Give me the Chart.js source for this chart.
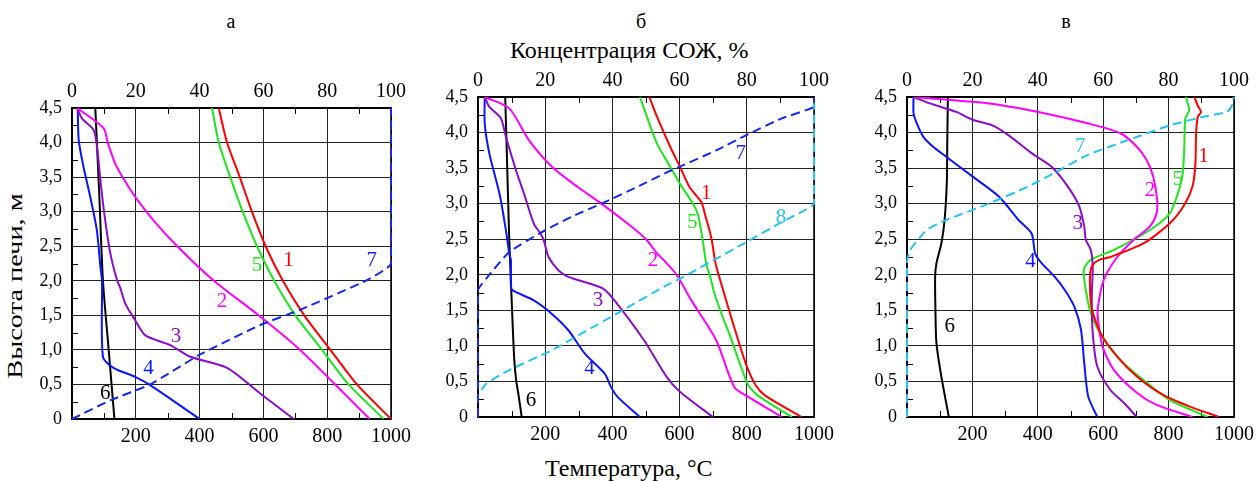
<!DOCTYPE html>
<html lang="ru">
<head>
<meta charset="utf-8">
<title>Температура и концентрация СОЖ по высоте печи</title>
<script src="https://cdn.jsdelivr.net/npm/chart.js@4.4.1/dist/chart.umd.min.js"></script>
<style>
  html, body { margin: 0; padding: 0; background: #fff; }
  #fig { position: relative; width: 1260px; height: 481px; overflow: hidden; font-family: "Liberation Serif", "DejaVu Serif", "Noto Serif", "Times New Roman", serif; color: #000; }
  #fig canvas { position: absolute; top: 0; }
  .txt { position: absolute; white-space: nowrap; line-height: 1; }
</style>
</head>
<body>
<div id="fig">
  <div class="txt" style="left:231px;top:11px;font-size:20px;transform:translateX(-50%)">а</div>
  <div class="txt" style="left:641px;top:11px;font-size:20px;transform:translateX(-50%)">б</div>
  <div class="txt" style="left:1066px;top:11px;font-size:20px;transform:translateX(-50%)">в</div>
  <div class="txt" id="ttop" style="left:510px;top:38px;font-size:24px">Концентрация СОЖ, %</div>
  <div class="txt" id="tbot" style="left:545px;top:456px;font-size:24px">Температура, °С</div>
  <div class="txt" id="ytitle" style="left:15px;top:286px;font-size:21px">Высота печи, м</div>
</div>
<script>
// ---- ticks ----
const MINOR_X = [100, 300, 500, 700, 900];
const MINOR_Y = [0.25, 0.75, 1.25, 1.75, 2.25, 2.75, 3.25, 3.75, 4.25];

// ---- panel а : [температура °C, высота м] ----
const a1 = [[460,4.5],[486,4.0],[526,3.5],[564,3.0],[607,2.5],[661,2.0],[728,1.5],[810,1.0],[893,0.5],[1000,0]];
const a2 = [[16,4.5],[99,4.21],[112,4.0],[135,3.7],[165,3.45],[205,3.17],[260,2.85],[330,2.5],[440,2.02],[585,1.5],[715,1.0],[825,0.5],[933,0]];
const a3 = [[16,4.5],[31,4.35],[68,4.18],[80,3.87],[89,3.46],[101,2.98],[120,2.4],[141,2.01],[151,1.9],[167,1.67],[198,1.43],[230,1.21],[308,1.07],[371,0.9],[486,0.74],[590,0.37],[695,0]];
const a4 = [[18,4.5],[21,4.04],[36,3.65],[57,3.22],[78,2.73],[89,2.2],[94,2.0],[97,0.9],[130,0.74],[198,0.61],[245,0.49],[400,0]];
const a5 = [[439,4.5],[460,4.0],[496,3.5],[535,3.0],[580,2.5],[634,2.0],[700,1.5],[784,1.0],[867,0.5],[977,0]];
const a6 = [[73,4.5],[85,3.3],[97,2.0],[115,1.0],[133,0]];
// концентрация СОЖ, % : [концентрация, высота]
const a7 = [[0,0],[12,0.27],[24.5,0.5],[40,0.93],[59,1.36],[72,1.59],[92.5,2.01],[100,2.25],[100,4.5]];
const aLabels = [['1',679,2.3],['5',580,2.22],['2',470,1.7],['3',326,1.19],['4',240,0.73],['6',104,0.37],['7',940,2.3]];

// ---- panel б ----
const b1 = [[510,4.5],[533,4.22],[572,3.8],[601,3.52],[630,3.23],[665,3.02],[675,2.86],[694,2.53],[707,2.16],[718,1.97],[753,1.41],[797,0.75],[826,0.45],[855,0.3],[963,0]];
const b2 = [[20,4.5],[93,4.34],[152,3.89],[220,3.52],[298,3.23],[367,3.0],[445,2.72],[500,2.5],[533,2.3],[562,2.16],[591,2.0],[635,1.64],[709,1.08],[763,0.42],[806,0.28],[904,0]];
const b3 = [[20,4.5],[34,4.36],[68,4.2],[83,3.94],[113,3.47],[137,3.14],[166,2.72],[186,2.58],[196,2.48],[210,2.25],[240,2.06],[269,1.97],[371,1.81],[406,1.64],[494,1.08],[562,0.56],[600,0.36],[699,0]];
const b4 = [[20,4.5],[20,4.13],[34,3.7],[64,3.14],[83,2.63],[93,2.3],[98,2.2],[98,1.83],[103,1.78],[166,1.64],[220,1.45],[269,1.22],[318,0.89],[377,0.61],[396,0.42],[416,0.28],[482,0]];
const b5 = [[482,4.5],[503,4.22],[533,3.84],[572,3.52],[601,3.28],[640,3.0],[655,2.84],[669,2.48],[679,2.16],[694,1.92],[704,1.73],[728,1.41],[748,1.17],[802,0.47],[826,0.33],[855,0.23],[934,0]];
const b6 = [[81,4.5],[87,3.5],[93,2.5],[98,1.9],[104,1.2],[108,0.8],[114,0.5],[120,0.33],[130,0]];
const b7 = [[0,0],[0,1.78],[2.5,1.95],[9.3,2.32],[19,2.6],[28,2.82],[36.7,3.0],[48,3.25],[56.2,3.44],[60.1,3.52],[70.9,3.75],[80.6,3.98],[90.4,4.2],[100,4.36],[100,4.5]];
const b8 = [[0,0],[0,0.3],[2.5,0.47],[9.3,0.66],[22,0.94],[43,1.5],[55.3,1.83],[61.1,1.97],[80.6,2.48],[90.4,2.74],[97.3,2.91],[100,3.0],[100,4.5]];
const bLabels = [['1',679,3.14],['5',638,2.73],['2',521,2.2],['3',357,1.64],['4',332,0.68],['6',158,0.23],['7',782,3.7],['8',902,2.81]];

// ---- panel в ----
const c1 = [[879,4.5],[889,4.38],[899,4.29],[889,4.22],[884,3.98],[882,3.56],[873,3.24],[848,2.98],[803,2.72],[723,2.44],[622,2.25],[588,2.21],[568,2.14],[560,2.02],[564,1.55],[592,1.18],[643,0.85],[703,0.57],[783,0.31],[863,0.15],[954,0]];
const c2 = [[20,4.5],[251,4.41],[402,4.29],[552,4.13],[653,3.99],[703,3.8],[733,3.61],[753,3.38],[765,3.05],[763,2.86],[743,2.68],[693,2.49],[643,2.25],[602,1.93],[584,1.55],[584,1.37],[598,0.99],[633,0.66],[703,0.34],[763,0.17],[873,0]];
const c3 = [[20,4.5],[70,4.41],[151,4.29],[201,4.18],[261,4.1],[311,3.96],[381,3.71],[442,3.52],[492,3.24],[527,2.96],[542,2.68],[547,2.49],[562,2.35],[568,2.11],[565,1.69],[568,1.18],[582,0.71],[622,0.38],[663,0.2],[703,0]];
const c4 = [[20,4.5],[20,4.27],[30,4.13],[50,3.94],[80,3.8],[120,3.66],[201,3.38],[281,3.1],[341,2.77],[381,2.58],[392,2.3],[407,2.19],[452,1.97],[482,1.79],[512,1.55],[532,1.23],[542,0.76],[554,0.29],[582,0]];
const c5 = [[853,4.5],[863,4.31],[851,4.2],[848,3.8],[843,3.42],[828,3.14],[803,2.86],[743,2.63],[633,2.35],[562,2.21],[542,2.09],[542,1.93],[562,1.46],[602,1.09],[653,0.8],[723,0.52],[803,0.24],[919,0]];
const c6 = [[125,4.5],[123,3.8],[122,3.33],[115,2.77],[105,2.44],[90,2.16],[86,1.97],[87,1.5],[90,1.04],[105,0.57],[128,0]];
const c7 = [[0,0],[0,2.18],[1,2.35],[6,2.63],[12,2.77],[25,3.0],[37,3.24],[45,3.43],[55,3.68],[67.3,3.89],[80.3,4.1],[90.4,4.22],[97.9,4.29],[99.4,4.38],[100,4.5]];
const cLabels = [['1',907,3.67],['5',828,3.34],['2',743,3.19],['3',522,2.72],['4',378,2.19],['6',131,1.27],['7',530,3.8]];

const FONT = '"Liberation Serif", "DejaVu Serif", "Noto Serif", "Times New Roman", serif';
const COLORS = { 1:'#ff0000', 2:'#ff00ff', 3:'#8c0ccc', 4:'#0a14ff', 5:'#1ee61e', 6:'#000000' };
const BLUE = '#1428f0', CYAN = '#22c4f4';

const panels = [
  { left: 0,   yW: 72, topH: 108, botH: 62, padR: 29,
    solid: { 1:a1, 5:a5, 2:a2, 3:a3, 4:a4, 6:a6 }, conc: [['7', a7, BLUE]], labels: aLabels },
  { left: 420, yW: 58, topH: 97,  botH: 64, padR: 21,
    solid: { 1:b1, 5:b5, 2:b2, 3:b3, 4:b4, 6:b6 }, conc: [['7', b7, BLUE], ['8', b8, CYAN]], labels: bLabels },
  { left: 840, yW: 67, topH: 97,  botH: 64, padR: 21,
    solid: { 1:c1, 5:c5, 2:c2, 3:c3, 4:c4, 6:c6 }, conc: [['7', c7, CYAN]], labels: cLabels }
];

const toPts = arr => arr.map(([x, y]) => ({ x, y }));

// frame + inner minor ticks, then curve numbers
const decor = {
  id: 'decor',
  beforeDatasetsDraw(chart) {
    const { ctx, chartArea: a, scales } = chart;
    ctx.save();
    ctx.strokeStyle = '#000';
    ctx.lineWidth = 1;
    ctx.beginPath();
    MINOR_X.forEach(v => {
      const x = Math.round(scales.x.getPixelForValue(v)) + 0.5;
      ctx.moveTo(x, a.bottom); ctx.lineTo(x, a.bottom - 6);
      ctx.moveTo(x, a.top); ctx.lineTo(x, a.top + 6);
    });
    MINOR_Y.forEach(v => {
      const y = Math.round(scales.y.getPixelForValue(v)) + 0.5;
      ctx.moveTo(a.left, y); ctx.lineTo(a.left + 6, y);
    });
    ctx.stroke();
    ctx.lineWidth = 1.5;
    ctx.strokeRect(a.left, a.top, a.right - a.left, a.bottom - a.top);
    ctx.restore();
  },
  afterDatasetsDraw(chart, args, opts) {
    const { ctx, scales } = chart;
    ctx.save();
    ctx.font = '21px ' + FONT;
    ctx.textAlign = 'center';
    ctx.textBaseline = 'middle';
    opts.labels.forEach(([t, x, y]) => {
      ctx.fillStyle = opts.colors[t];
      ctx.fillText(t, scales.x.getPixelForValue(x), scales.y.getPixelForValue(y));
    });
    ctx.restore();
  }
};

function buildPanel(p) {
  const cv = document.createElement('canvas');
  cv.width = 420; cv.height = 481;
  cv.style.left = p.left + 'px';
  document.getElementById('fig').appendChild(cv);

  const colors = Object.assign({}, COLORS);
  const datasets = [];
  p.conc.forEach(([n, d, col]) => {
    colors[n] = col;
    datasets.push({ data: toPts(d), xAxisID: 'xt', yAxisID: 'y', borderColor: col, borderWidth: 2,
      borderDash: [9, 5], showLine: true, pointRadius: 0, tension: 0.15, clip: 4 });
  });
  Object.keys(p.solid).forEach(n => {
    datasets.push({ data: toPts(p.solid[n]), xAxisID: 'x', yAxisID: 'y', borderColor: COLORS[n],
      borderWidth: 2, showLine: true, pointRadius: 0, tension: 0.25 });
  });

  new Chart(cv, {
    type: 'scatter',
    data: { datasets },
    options: {
      responsive: false, animation: false, events: [],
      layout: { padding: { left: 0, right: p.padR, top: 0, bottom: 0 }, autoPadding: false },
      plugins: { legend: { display: false }, tooltip: { enabled: false },
                 decor: { labels: p.labels, colors } },
      scales: {
        x: { type: 'linear', position: 'bottom', min: 0, max: 1000,
             afterFit: s => { s.height = p.botH; },
             ticks: { stepSize: 200, autoSkip: false, maxRotation: 0, padding: 6, color: '#000',
                      font: { family: FONT, size: 20 }, callback: v => v === 0 ? '' : String(v) },
             grid: { color: '#222', lineWidth: 1, drawTicks: false },
             border: { color: '#000', width: 1.5 } },
        xt: { type: 'linear', position: 'top', min: 0, max: 100,
              afterFit: s => { s.height = p.topH; },
              ticks: { stepSize: 20, autoSkip: false, maxRotation: 0, padding: 4, color: '#000',
                       font: { family: FONT, size: 20 } },
              grid: { drawOnChartArea: false, drawTicks: false },
              border: { color: '#000', width: 1.5 } },
        y: { type: 'linear', position: 'left', min: 0, max: 4.5,
             afterFit: s => { s.width = p.yW; },
             ticks: { stepSize: 0.5, autoSkip: false, padding: 10, color: '#000',
                      font: { family: FONT, size: 18 },
                      callback: v => v === 0 ? '0' : v.toFixed(1).replace('.', ',') },
             grid: { color: '#222', lineWidth: 1, drawTicks: false },
             border: { color: '#000', width: 1.5 } }
      }
    },
    plugins: [decor]
  });
}

panels.forEach(buildPanel);

// titles: keep the spans they have in the figure
const fitText = (id, w) => {
  const el = document.getElementById(id);
  return (w / el.offsetWidth).toFixed(3);
};
const yt = document.getElementById('ytitle');
yt.style.transform = `translate(-50%,-50%) rotate(-90deg) scaleX(${fitText('ytitle', 185)})`;
['ttop', 'tbot'].forEach((id, i) => {
  const el = document.getElementById(id);
  el.style.transformOrigin = '0 50%';
  el.style.transform = `scaleX(${fitText(id, i === 0 ? 238 : 168)})`;
});
</script>
</body>
</html>
